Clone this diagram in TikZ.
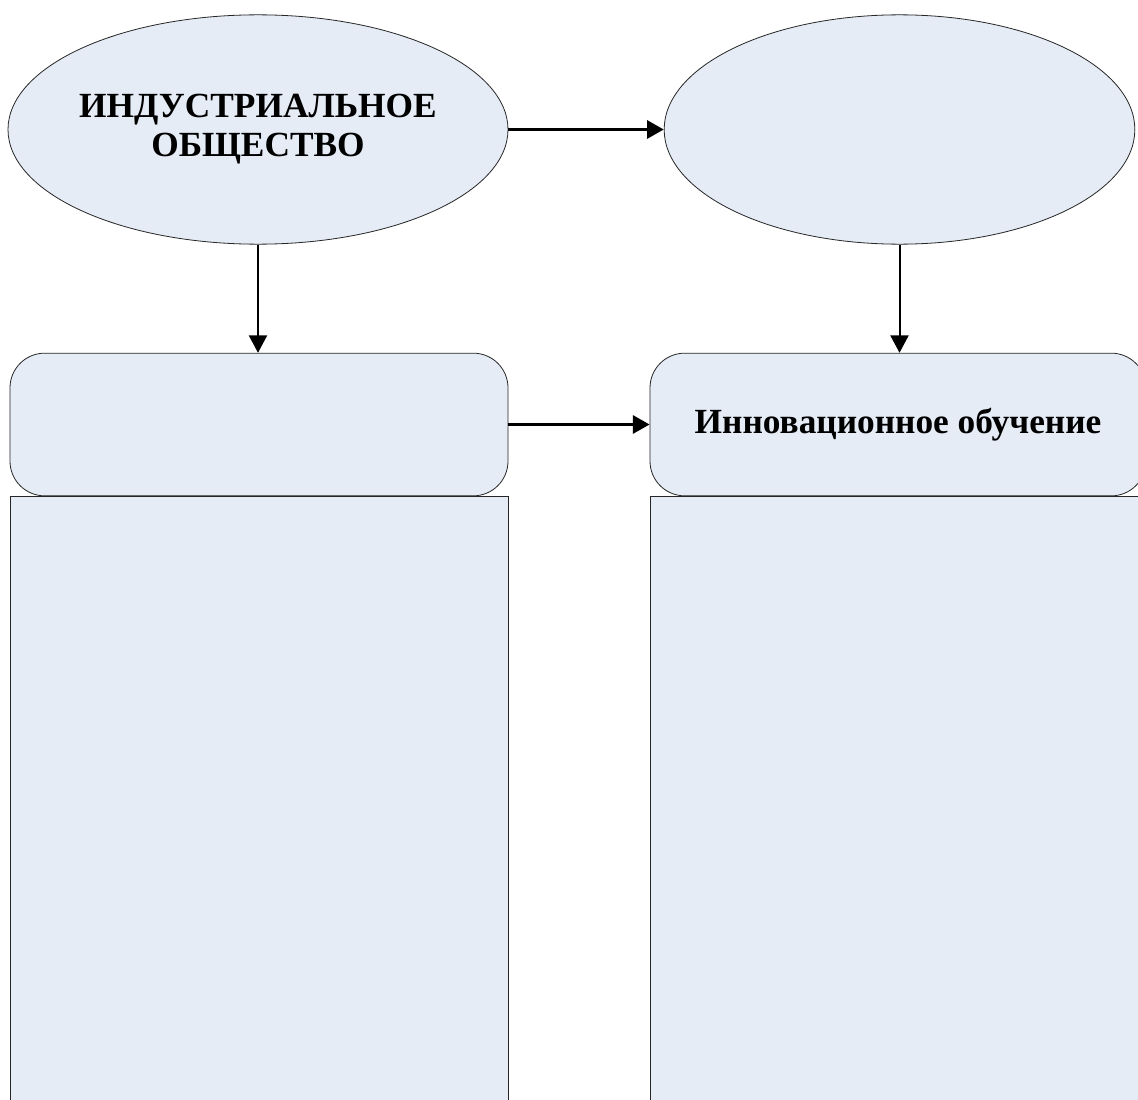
\documentclass[tikz,border=0pt]{standalone}
\usepackage{fontspec}
\setmainfont{Liberation Serif}
\usetikzlibrary{shapes.geometric,arrows.meta}
\definecolor{fillblue}{HTML}{E5ECF6}
\tikzset{
  shapebox/.style={draw=black!85, line width=0.6pt, fill=fillblue},
  ovalbox/.style={shapebox, ellipse, inner ysep=0pt, inner xsep=-8pt, font=\fontsize{26.5pt}{29.3pt}\selectfont\bfseries, align=center},
  roundbox/.style={shapebox, rectangle, rounded corners=26pt, inner sep=0pt, font=\fontsize{26.5pt}{30pt}\selectfont\bfseries},
  tallbox/.style={shapebox, rectangle, inner sep=0pt},
  link/.style={line width=1.5pt, -{Triangle[length=13pt,width=13.5pt]}},
  hlink/.style={link, line width=2.2pt, -{Triangle[length=12.5pt,width=13.5pt]}}
}
\begin{document}
\begin{tikzpicture}[x=0.75pt,y=-0.75pt]
\useasboundingbox (0,0) rectangle (1138,1099);
\fill[white] (0,0) rectangle (1138,1099);
\clip (0,0) rectangle (1138,1099);
% tall boxes
\node[tallbox, minimum width=373.5pt, minimum height=465pt, anchor=north west] (lt) at (10,496) {};
\node[tallbox, minimum width=372pt, minimum height=465pt, anchor=north west] (rt) at (650,496) {};
% rounded boxes
\node[roundbox, minimum width=373.5pt, minimum height=107pt] (lr) at (259,424.5) {};
\node[roundbox, minimum width=372pt, minimum height=107pt] (rr) at (898,424.5) {Инновационное обучение};
% ellipses
\node[ovalbox, minimum width=375pt, minimum height=172pt] (le) at (258,129.5) {ИНДУСТРИАЛЬНОЕ\\ОБЩЕСТВО};
\node[ovalbox, minimum width=353pt, minimum height=172pt] (re) at (899.5,129.5) {};
% arrows
\draw[hlink] (le.east) -- (re.west);
\draw[link] (le.south) -- (le.south |- lr.north);
\draw[link] (re.south) -- (re.south |- rr.north);
\draw[hlink] (lr.east) -- (rr.west);
\end{tikzpicture}
\end{document}
